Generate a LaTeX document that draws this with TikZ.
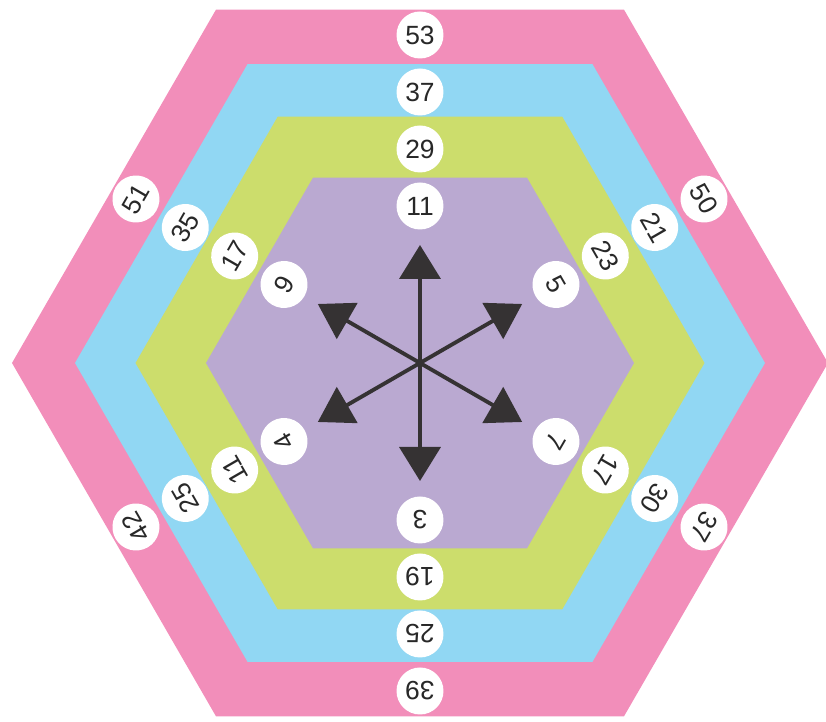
\documentclass[tikz,border=0pt]{standalone}
\usepackage{fontspec}
\setmainfont{Liberation Sans}
\usetikzlibrary{arrows.meta}
\definecolor{bandpink}{RGB}{242,142,186}
\definecolor{bandblue}{RGB}{145,215,243}
\definecolor{bandgreen}{RGB}{204,221,108}
\definecolor{bandpurple}{RGB}{186,169,209}
\definecolor{arrowink}{RGB}{53,50,51}
\definecolor{digitink}{RGB}{40,40,40}
\tikzset{
  numdot/.style={circle,fill=white,inner sep=0pt,minimum size=0.94cm,
    font=\fontsize{15}{15}\selectfont,text=digitink},
  spoke/.style={arrowink,line width=2.2pt,-{Triangle[length=0.68cm,width=0.82cm]}}
}
\begin{document}
\begin{tikzpicture}[x=0.02cm,y=0.02cm]
 \useasboundingbox (-420,-359) rectangle (406,363);
 % nested hexagons
 \foreach \r/\c in {408/bandpink,345/bandblue,284.5/bandgreen,214/bandpurple}
   \fill[\c] (0:\r)--(60:\r)--(120:\r)--(180:\r)--(240:\r)--(300:\r)--cycle;
 % six arrows out of the middle
 \coordinate (mid) at (0,0);
 \foreach \a in {30,90,150,210,270,330}{
   \coordinate (tip\a) at (\a:118);
   \draw[spoke] (mid)--(tip\a);
 }
 % numbers, outer ring first
 \foreach \a/\la/\lb/\lc/\ld in {90/53/37/29/11,30/50/21/23/5,-30/37/30/17/7,
     -90/39/25/19/3,-150/42/25/11/4,150/51/35/17/9}{
   \node[numdot,rotate=\a-90] (a\a) at (\a:328){\la};
   \node[numdot,rotate=\a-90] (b\a) at (\a:271){\lb};
   \node[numdot,rotate=\a-90] (c\a) at (\a:214){\lc};
   \node[numdot,rotate=\a-90] (d\a) at (\a:157){\ld};
 }
\end{tikzpicture}
\end{document}
